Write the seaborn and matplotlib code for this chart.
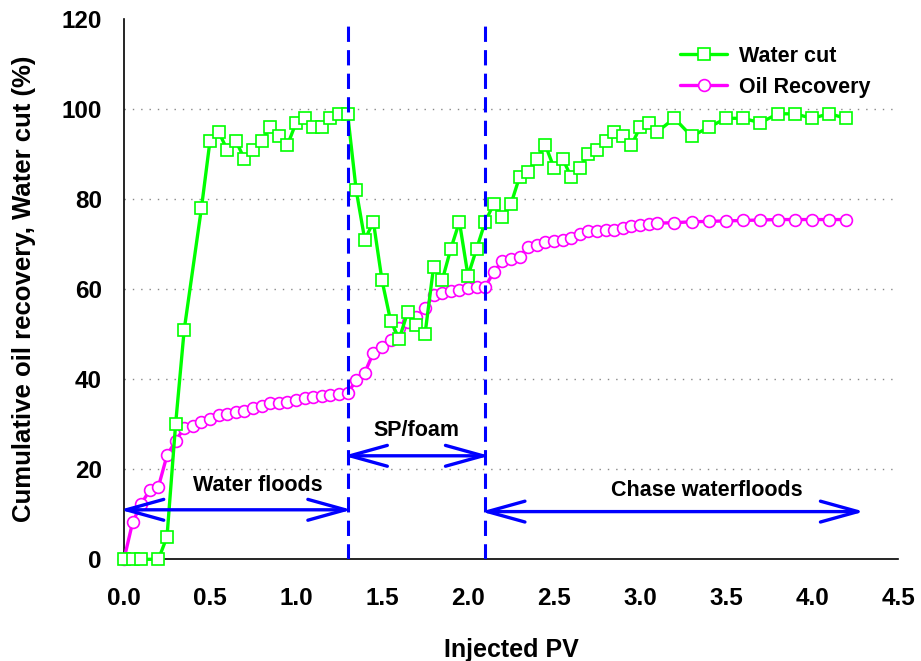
import numpy as np
import pandas as pd
import matplotlib
matplotlib.use("Agg")
import matplotlib.pyplot as plt
import matplotlib.transforms as mtransforms
import seaborn as sns

# ---- data ----
pv_wc = [0.0, 0.05, 0.10, 0.20, 0.25, 0.30, 0.35, 0.45, 0.50, 0.55, 0.60, 0.65, 0.70,
         0.75, 0.80, 0.85, 0.90, 0.95, 1.00, 1.05, 1.10, 1.15, 1.20, 1.25, 1.30,
         1.35, 1.40, 1.45, 1.50, 1.55, 1.60, 1.65, 1.70, 1.75, 1.80, 1.85, 1.90,
         1.95, 2.00, 2.05, 2.10, 2.15, 2.20, 2.25, 2.30, 2.35, 2.40, 2.45, 2.50,
         2.55, 2.60, 2.65, 2.70, 2.75, 2.80, 2.85, 2.90, 2.95, 3.00, 3.05, 3.10,
         3.20, 3.30, 3.40, 3.50, 3.60, 3.70, 3.80, 3.90, 4.00, 4.10, 4.20]
water_cut = [0, 0, 0, 0, 5, 30, 51, 78, 93, 95, 91, 93, 89, 91, 93, 96, 94, 92, 97, 98,
             96, 96, 98, 99, 99,
             82, 71, 75, 62, 53, 49, 55, 52, 50, 65, 62, 69, 75, 63, 69, 75, 79, 76,
             79, 85, 86, 89, 92, 87, 89, 85, 87, 90, 91, 93, 95, 94, 92, 96, 97, 95,
             98, 94, 96, 98, 98, 97, 99, 99, 98, 99, 98]

pv_oil = [0.0, 0.05, 0.10, 0.15, 0.20, 0.25, 0.30, 0.35, 0.40, 0.45, 0.50, 0.55, 0.60,
          0.65, 0.70, 0.75, 0.80, 0.85, 0.90, 0.95, 1.00, 1.05, 1.10, 1.15, 1.20,
          1.25, 1.30, 1.35, 1.40, 1.45, 1.50, 1.55, 1.60, 1.65, 1.70, 1.75, 1.80,
          1.85, 1.90, 1.95, 2.00, 2.05, 2.10, 2.15, 2.20, 2.25, 2.30, 2.35, 2.40,
          2.45, 2.50, 2.55, 2.60, 2.65, 2.70, 2.75, 2.80, 2.85, 2.90, 2.95, 3.00,
          3.05, 3.10, 3.20, 3.30, 3.40, 3.50, 3.60, 3.70, 3.80, 3.90, 4.00, 4.10, 4.20]
oil_recovery = [0, 8.2, 12.3, 15.4, 16.1, 23.1, 26.3, 29.2, 29.7, 30.6, 31.1, 32.1, 32.3,
                32.7, 33.0, 33.7, 34.1, 34.8, 34.8, 35.0, 35.3, 35.8, 36.1, 36.4, 36.5,
                36.7, 36.9,
                39.8, 41.5, 45.9, 47.2, 48.7, 51.3, 52.8, 53.8, 55.8, 58.7, 59.1, 59.6,
                59.8, 60.2, 60.4, 60.6,
                63.8, 66.3, 66.7, 67.2, 69.5, 69.9, 70.4, 70.7, 71.0, 71.5, 72.2, 73.0,
                73.0, 73.2, 73.2, 73.7, 74.1, 74.3, 74.4, 74.7,
                74.8, 75.0, 75.1, 75.2, 75.3, 75.4, 75.5, 75.5, 75.5, 75.5, 75.5]

phase_bounds = [1.3, 2.1]
phase_labels = ["Water floods", "SP/foam", "Chase waterfloods"]
phase_spans = [(0.0, 1.3), (1.3, 2.1), (2.1, 4.28)]
series_names = ["Water cut", "Oil Recovery"]
x_ticks = [0.0, 0.5, 1.0, 1.5, 2.0, 2.5, 3.0, 3.5, 4.0, 4.5]
y_ticks = [0, 20, 40, 60, 80, 100, 120]

df_wc = pd.DataFrame({"pv": pv_wc, "val": water_cut})
df_oil = pd.DataFrame({"pv": pv_oil, "val": oil_recovery})

# ---- style ----
sns.set_theme(style="white")
plt.rcParams["font.family"] = ["Liberation Sans", "DejaVu Sans"]
plt.rcParams["font.weight"] = "bold"
plt.rcParams["text.color"] = "black"
plt.rcParams["axes.labelcolor"] = "black"
plt.rcParams["xtick.color"] = "black"
plt.rcParams["ytick.color"] = "black"

GREEN = "#00FF00"
MAGENTA = "#FF00FF"
BLUE = "#0000FF"

fig = plt.figure(figsize=(9.21, 6.61), dpi=100)
ax = fig.add_axes([124 / 921, 1 - 559.3 / 661, (898 - 124) / 921, (559.3 - 19.3) / 661])

sns.lineplot(data=df_oil, x="pv", y="val", ax=ax, color=MAGENTA, lw=2.4,
             marker="o", markersize=8.5, markerfacecolor="white",
             markeredgecolor=MAGENTA, markeredgewidth=1.2, label=series_names[1],
             zorder=3, clip_on=False)
sns.lineplot(data=df_wc, x="pv", y="val", ax=ax, color=GREEN, lw=2.4,
             marker="s", markersize=9.2, markerfacecolor="white",
             markeredgecolor=GREEN, markeredgewidth=1.2, label=series_names[0],
             zorder=4, clip_on=False)

ax.set_xlim(0, 4.5)
ax.set_ylim(0, 120)
ax.set_xticks(x_ticks)
ax.set_xticklabels([f"{t:.1f}" for t in x_ticks])
ax.set_yticks(y_ticks)
ax.set_yticklabels([str(t) for t in y_ticks])

for s in ["top", "right"]:
    ax.spines[s].set_visible(False)
for s in ["left", "bottom"]:
    ax.spines[s].set_color("black")
    ax.spines[s].set_linewidth(1.2)

ax.tick_params(axis="both", which="major", direction="out", length=5, width=1,
               color="black", labelcolor="black", labelsize=17.5)
ax.tick_params(axis="y", pad=11)
ax.tick_params(axis="x", pad=15)
for lab in ax.get_xticklabels() + ax.get_yticklabels():
    lab.set_fontweight("bold")

# dotted grid
for y in y_ticks[1:-1]:
    ax.axhline(y, color="#888888", lw=1.0, ls=(0, (1, 5)), zorder=0)

ax.set_xlabel("Injected PV", fontsize=18, fontweight="bold", labelpad=20, color="black")
ax.set_ylabel("Cumulative oil recovery, Water cut (%)", fontsize=18.5,
              fontweight="bold", labelpad=18, color="black")

# phase boundaries
for xb in phase_bounds:
    ax.axvline(xb, ymin=0, ymax=1.0, color=BLUE, lw=2.2, ls=(0, (5, 2.7)), zorder=5)

# arrows and labels (arrow tips nudged outward by a few pixels to touch the boundaries)
left_tr = ax.transData + mtransforms.ScaledTranslation(-4 / 100, 0, fig.dpi_scale_trans)
right_tr = ax.transData + mtransforms.ScaledTranslation(4 / 100, 0, fig.dpi_scale_trans)
arrow_y = [11, 23, 10.6]
text_pos = [(0.78, 16.5), (1.70, 28.7), (3.39, 15.3)]
for (x0, x1), ay, lab, (tx, ty) in zip(phase_spans, arrow_y, phase_labels, text_pos):
    ax.annotate("", xy=(x1, ay), xytext=(x0, ay), xycoords=right_tr, textcoords=left_tr,
                arrowprops=dict(arrowstyle="<->,head_length=27,head_width=7.5",
                                mutation_scale=1, color=BLUE, lw=2.4,
                                shrinkA=0, shrinkB=0), zorder=6)
    ax.text(tx, ty, lab, ha="center", va="center", fontsize=15.5,
            fontweight="bold", color="black")

# legend (Water cut first)
handles, labels = ax.get_legend_handles_labels()
order = [labels.index(series_names[0]), labels.index(series_names[1])]
leg = ax.legend([handles[i] for i in order], [labels[i] for i in order],
                loc="upper left", bbox_to_anchor=(680 / 921, 1 - 46 / 661),
                bbox_transform=fig.transFigure, frameon=False,
                prop={"size": 15.5, "weight": "bold"}, handlelength=2.2,
                handletextpad=0.55, labelspacing=0.45, borderpad=0, borderaxespad=0)
for t in leg.get_texts():
    t.set_color("black")

fig.savefig("out.png", dpi=100)
